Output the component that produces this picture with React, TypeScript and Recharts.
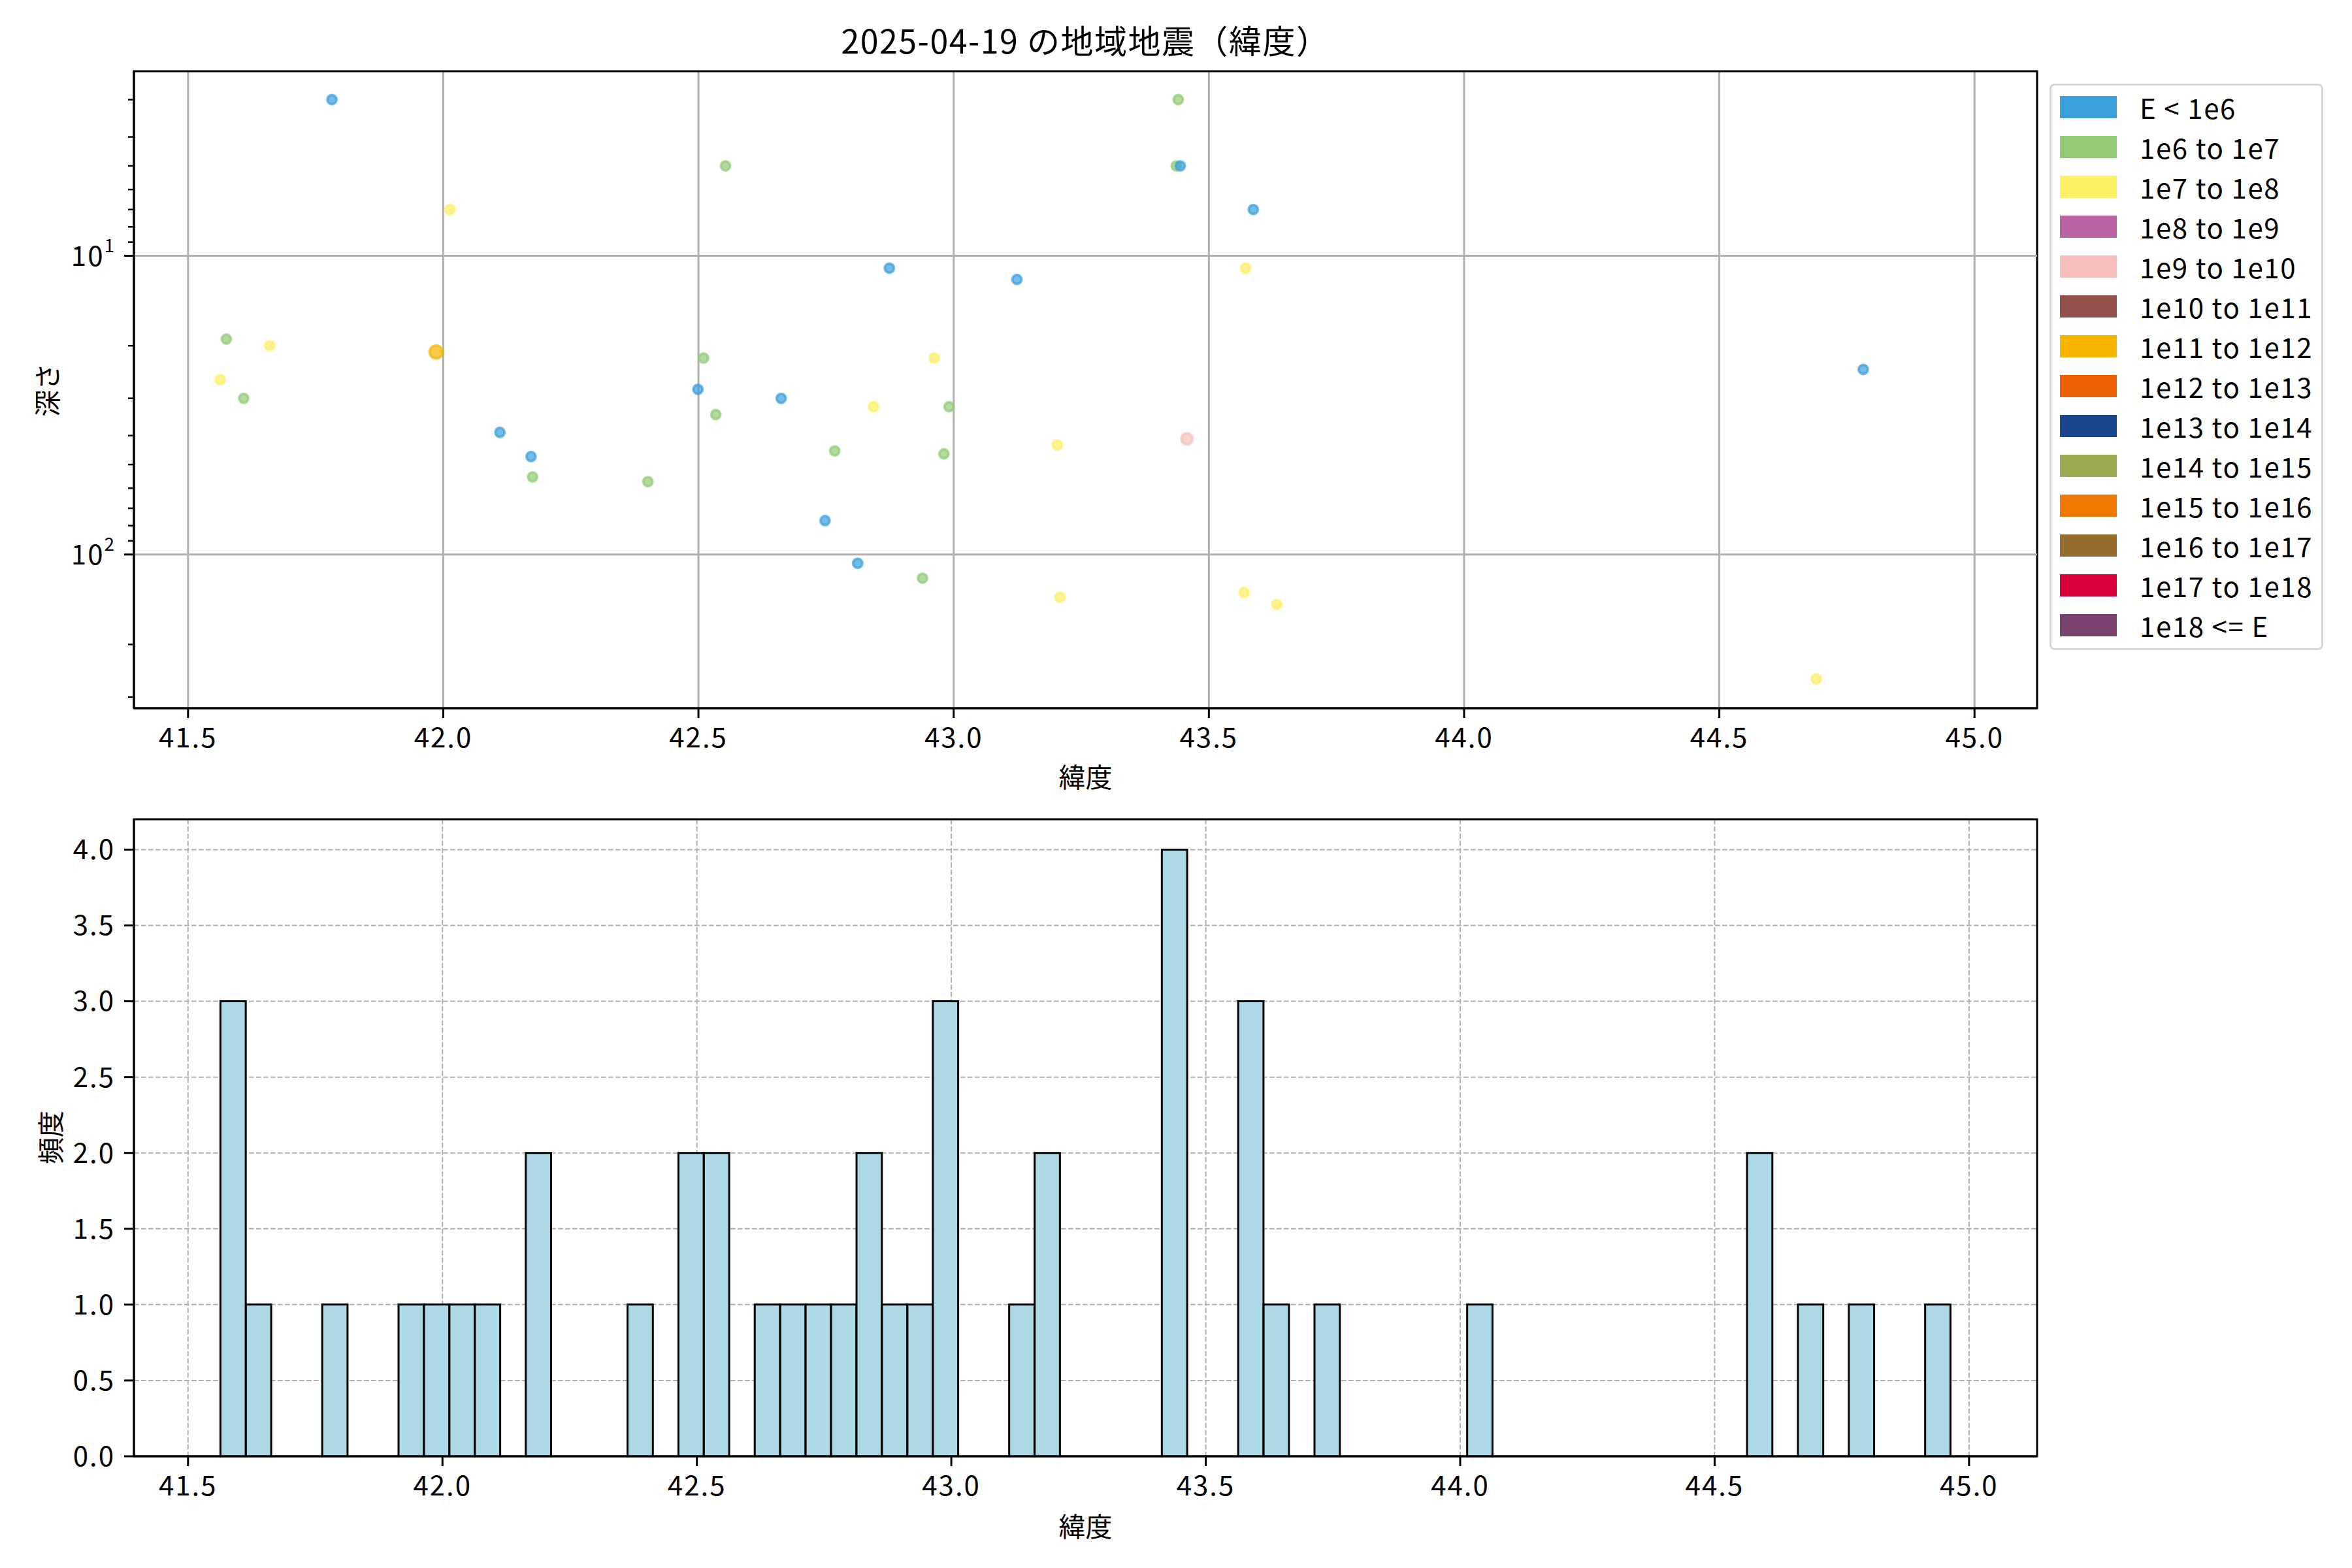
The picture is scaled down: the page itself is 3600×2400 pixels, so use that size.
import React from "react";
import {
  Bar,
  BarChart,
  CartesianGrid,
  Legend,
  ReferenceArea,
  ReferenceLine,
  Scatter,
  ScatterChart,
  XAxis,
  YAxis,
} from "recharts";

const FONT = '"Noto Sans CJK JP", "Noto Sans", sans-serif';

const energyLabels = [
  "E < 1e6",
  "1e6 to 1e7",
  "1e7 to 1e8",
  "1e8 to 1e9",
  "1e9 to 1e10",
  "1e10 to 1e11",
  "1e11 to 1e12",
  "1e12 to 1e13",
  "1e13 to 1e14",
  "1e14 to 1e15",
  "1e15 to 1e16",
  "1e16 to 1e17",
  "1e17 to 1e18",
  "1e18 <= E",
];

const energyColors = [
  "#3aa0dc",
  "#93ca76",
  "#fef064",
  "#bb63a2",
  "#f5c0bc",
  "#95514c",
  "#f7b500",
  "#e96103",
  "#1b458c",
  "#9bab4f",
  "#ee7800",
  "#956e2e",
  "#d7003a",
  "#7a426f",
];

const latTicks = [41.5, 42.0, 42.5, 43.0, 43.5, 44.0, 44.5, 45.0];
const scatterLatDomain: [number, number] = [41.394, 45.1226];
const histLatDomain: [number, number] = [41.3937, 45.1337];
const depthDomain: [number, number] = [2.41, 327];
const depthMajor = [10, 100];
const depthMinor = [3, 4, 5, 6, 7, 8, 9, 20, 30, 40, 50, 60, 70, 80, 90, 200, 300];
const freqTicks = [0, 0.5, 1, 1.5, 2, 2.5, 3, 3.5, 4];
const freqDomain: [number, number] = [0, 4.2];

// scatter points per energy class (latitude, depth km)
const blueLat = [41.782, 42.111, 42.172, 42.499, 42.662, 42.748, 42.812, 42.874, 43.124, 43.444, 43.587, 44.782];
const blueDepth = [3.0, 39, 47, 28, 30, 77, 107, 11, 12, 5, 7, 24];
const greenLat = [41.575, 41.609, 42.175, 42.401, 42.51, 42.534, 42.553, 42.767, 42.939, 42.981, 42.991, 43.436, 43.44];
const greenDepth = [19, 30, 55, 57, 22, 34, 5, 45, 120, 46, 32, 5, 3.0];
const yellowLat = [41.563, 41.66, 42.013, 42.843, 42.962, 43.203, 43.208, 43.569, 43.572, 43.633, 44.69];
const yellowDepth = [26, 20, 7, 32, 22, 43, 139, 134, 11, 147, 261];
const pinkLat = [43.457];
const pinkDepth = [41];
const amberLat = [41.986];
const amberDepth = [21];

// histogram: 68 bins of 0.05 deg
const binStart = 41.5637;
const binWidth = 0.05;
const binCounts = [
  3, 1, 0, 0, 1, 0, 0, 1, 1, 1, 1, 0, 2, 0, 0, 0, 1, 0, 2, 2, 0, 1, 1, 1, 1, 2, 1, 1, 3, 0, 0, 1, 2, 0,
  0, 0, 0, 4, 0, 0, 3, 1, 0, 1, 0, 0, 0, 0, 0, 1, 0, 0, 0, 0, 0, 0, 0, 0, 0, 0, 2, 0, 1, 0, 1, 0, 0, 1,
];

const histData = binCounts.map((count, i) => ({ center: binStart + (i + 0.5) * binWidth, count }));

const toPoints = (lat: number[], depth: number[]) => lat.map((x, i) => ({ lat: x, depth: depth[i] }));

const scatterGroups = [
  { cls: 1, data: toPoints(greenLat, greenDepth), r: 7 },
  { cls: 2, data: toPoints(yellowLat, yellowDepth), r: 7 },
  { cls: 6, data: toPoints(amberLat, amberDepth), r: 10 },
  { cls: 4, data: toPoints(pinkLat, pinkDepth), r: 8.5 },
  { cls: 0, data: toPoints(blueLat, blueDepth), r: 7 },
];

const PLOT_LEFT = 205;
const PLOT_RIGHT = 3118;
const TOP_H = 1230;
const BOTTOM_H = 2400 - TOP_H;
const plotWidth = PLOT_RIGHT - PLOT_LEFT;
// a hair under the bin width so recharts keeps the fixed size
const binPx = ((binWidth * plotWidth) / (histLatDomain[1] - histLatDomain[0])) * 0.995;

const tickStyle = { fontSize: 42, fill: "#000", fontFamily: FONT, letterSpacing: 2 };
const axisStroke = { stroke: "#000", strokeWidth: 3 };

const dot = (color: string, r: number) => (p: any) => (
  <circle
    cx={p.cx}
    cy={p.cy}
    r={r}
    fill={color}
    fillOpacity={0.7}
    stroke={color}
    strokeOpacity={0.7}
    strokeWidth={4}
  />
);

const LogTick = (props: any) => {
  const { x, y, payload } = props;
  const v = payload.value;
  const major = depthMajor.includes(v);
  return (
    <g>
      <line x1={x - (major ? 15 : 9)} x2={x} y1={y} y2={y} stroke="#000" strokeWidth={major ? 3 : 2.5} />
      {major && (
        <text x={x - 28} y={y + 15} textAnchor="end" fontSize={42} fontFamily={FONT} fill="#000" letterSpacing={2}>
          10
          <tspan dy={-21} fontSize={28}>
            {Math.round(Math.log10(v))}
          </tspan>
        </text>
      )}
    </g>
  );
};

const xLabel = (cy: number) => () => (
  <text
    x={(PLOT_LEFT + PLOT_RIGHT) / 2}
    y={cy}
    textAnchor="middle"
    dominantBaseline="central"
    fontSize={41}
    fontFamily={FONT}
    fill="#000"
  >
    緯度
  </text>
);

const yLabel = (text: string, cx: number, cy: number) => () => (
  <text
    x={cx}
    y={cy}
    transform={`rotate(-90 ${cx} ${cy})`}
    textAnchor="middle"
    dominantBaseline="central"
    fontSize={41}
    fontFamily={FONT}
    fill="#000"
  >
    {text}
  </text>
);

function EnergyLegend() {
  return (
    <div
      style={{
        boxSizing: "border-box",
        width: 419,
        height: 867,
        border: "3px solid #d6d6d6",
        borderRadius: 8,
        background: "#fff",
        padding: "2px 0 0 13px",
        fontFamily: FONT,
      }}
    >
      {energyLabels.map((label, i) => (
        <div key={label} style={{ display: "flex", alignItems: "center", height: 61 }}>
          <div style={{ width: 87, height: 34, background: energyColors[i] }} />
          <span
            style={{
              marginLeft: 35,
              fontSize: 42,
              lineHeight: 1,
              color: "#000",
              whiteSpace: "nowrap",
              letterSpacing: 1.6,
            }}
          >
            {label}
          </span>
        </div>
      ))}
    </div>
  );
}

export default function App() {
  return (
    <div style={{ position: "absolute", left: 0, top: 0, width: 3600, height: 2400, background: "#fff" }}>
      <ScatterChart
        width={3600}
        height={TOP_H}
        margin={{ top: 109, right: 3600 - PLOT_RIGHT, left: 0, bottom: 0 }}
      >
        <CartesianGrid horizontal={false} stroke="#b0b0b0" strokeWidth={3} />
        {depthMajor.map((v) => (
          <ReferenceLine key={v} y={v} stroke="#b0b0b0" strokeWidth={3} />
        ))}
        <XAxis
          type="number"
          dataKey="lat"
          domain={scatterLatDomain}
          ticks={latTicks}
          interval={0}
          allowDataOverflow
          height={TOP_H - 1084}
          tickFormatter={(v) => Number(v).toFixed(1)}
          tick={tickStyle}
          tickSize={15}
          tickMargin={15}
          axisLine={axisStroke}
          tickLine={axisStroke}
          label={{ content: xLabel(1187) }}
        />
        <YAxis
          type="number"
          dataKey="depth"
          scale="log"
          domain={depthDomain}
          reversed
          allowDataOverflow
          ticks={[...depthMinor, ...depthMajor].sort((a, b) => a - b)}
          interval={0}
          width={PLOT_LEFT}
          tick={(p: any) => <LogTick {...p} />}
          tickLine={false}
          tickSize={0}
          tickMargin={0}
          axisLine={axisStroke}
          label={{ content: yLabel("深さ", 70, 597) }}
        />
        {scatterGroups.map((g) => (
          <Scatter
            key={g.cls}
            name={energyLabels[g.cls]}
            data={g.data}
            fill={energyColors[g.cls]}
            shape={dot(energyColors[g.cls], g.r)}
            isAnimationActive={false}
          />
        ))}
        <ReferenceArea
          x1={scatterLatDomain[0]}
          x2={scatterLatDomain[1]}
          y1={depthDomain[0]}
          y2={depthDomain[1]}
          fill="none"
          stroke="#000"
          strokeWidth={3}
          ifOverflow="visible"
        />
        <Legend
          layout="vertical"
          align="center"
          verticalAlign="middle"
          wrapperStyle={{ left: 3137, top: 128, width: 419, height: 867 }}
          content={() => <EnergyLegend />}
        />
      </ScatterChart>

      <BarChart
        width={3600}
        height={BOTTOM_H}
        data={histData}
        barCategoryGap={0}
        barGap={0}
        margin={{ top: 1254 - TOP_H, right: 3600 - PLOT_RIGHT, left: 0, bottom: 0 }}
      >
        <CartesianGrid stroke="#b0b0b0" strokeWidth={2} strokeDasharray="7.7 3.3" />
        <XAxis
          type="number"
          dataKey="center"
          domain={histLatDomain}
          ticks={latTicks}
          interval={0}
          allowDataOverflow
          height={2400 - 2229}
          tickFormatter={(v) => Number(v).toFixed(1)}
          tick={tickStyle}
          tickSize={15}
          tickMargin={15}
          axisLine={axisStroke}
          tickLine={axisStroke}
          label={{ content: xLabel(2334 - TOP_H) }}
        />
        <YAxis
          type="number"
          domain={freqDomain}
          ticks={freqTicks}
          interval={0}
          allowDataOverflow
          width={PLOT_LEFT}
          tickFormatter={(v) => Number(v).toFixed(1)}
          tick={tickStyle}
          tickSize={15}
          tickMargin={14}
          axisLine={axisStroke}
          tickLine={axisStroke}
          label={{ content: yLabel("頻度", 75, 1741 - TOP_H) }}
        />
        <Bar dataKey="count" fill="#add8e6" stroke="#000" strokeWidth={3} barSize={binPx} isAnimationActive={false} />
        <ReferenceArea
          x1={histLatDomain[0]}
          x2={histLatDomain[1]}
          y1={freqDomain[0]}
          y2={freqDomain[1]}
          fill="none"
          stroke="#000"
          strokeWidth={3}
          ifOverflow="visible"
        />
      </BarChart>

      <svg width={3600} height={120} style={{ position: "absolute", left: 0, top: 0 }}>
        <text
          x={(PLOT_LEFT + PLOT_RIGHT) / 2}
          y={82}
          textAnchor="middle"
          fontSize={50}
          fontFamily={FONT}
          fill="#000"
          letterSpacing={1.5}
        >
          2025-04-19 の地域地震（緯度）
        </text>
      </svg>
    </div>
  );
}
